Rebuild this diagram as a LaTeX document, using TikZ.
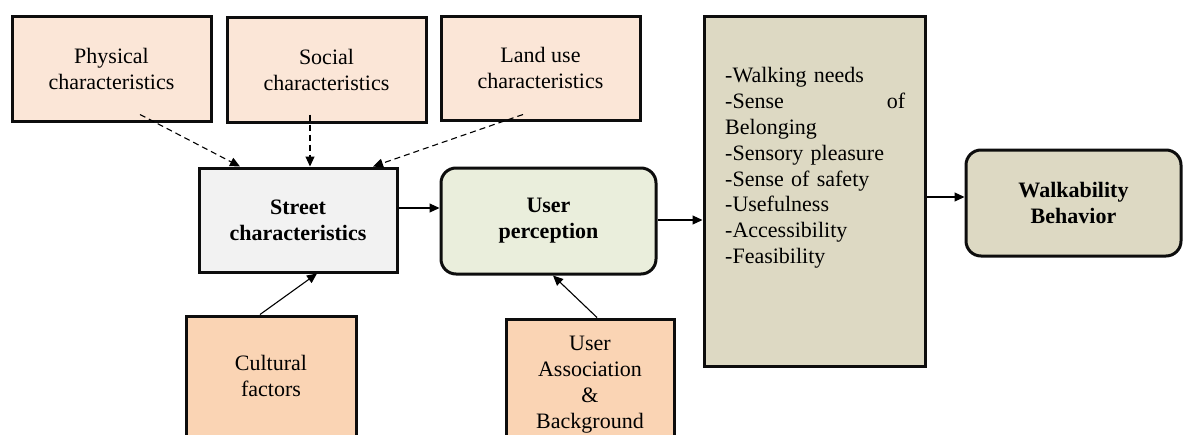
\documentclass[tikz,border=0pt]{standalone}
\usepackage{fontspec}
\IfFontExistsTF{LiberationSerif-Regular.ttf}
  {\setmainfont{LiberationSerif}[Extension=.ttf, UprightFont=*-Regular, BoldFont=*-Bold, ItalicFont=*-Italic, BoldItalicFont=*-BoldItalic]}
  {\setmainfont{Liberation Serif}}
\usetikzlibrary{arrows.meta,calc}
\definecolor{topfill}{HTML}{FBE6D7}
\definecolor{streetfill}{HTML}{F2F2F2}
\definecolor{userfill}{HTML}{EAEEDC}
\definecolor{tanfill}{HTML}{DDD9C3}
\definecolor{orangefill}{HTML}{FAD4B4}
\tikzset{
  box/.style={draw=black!95, line width=3pt, inner sep=0pt, align=center,
    font=\fontsize{22}{26}\selectfont},
  roundbox/.style={box, rounded corners=15pt},
  conn/.style={line width=1.1pt, -{Triangle[length=10pt,width=9pt]}},
  dconn/.style={conn, dash pattern=on 6pt off 4pt},
}
\begin{document}
\begin{tikzpicture}[x=1pt,y=-1pt]
\clip (0,0) rectangle (1183,434);
\fill[white] (0,0) rectangle (1183,434);
% top boxes
\node[box, fill=topfill, minimum width=199pt, minimum height=105pt] (phys) at (111.5,68.5) {Physical\\characteristics};
\node[box, fill=topfill, minimum width=199pt, minimum height=105pt] (soc) at (326.5,69.5) {Social\\characteristics};
\node[box, fill=topfill, minimum width=199pt, minimum height=104pt] (land) at (540.5,68) {Land use\\characteristics};
% middle
\node[box, fill=streetfill, minimum width=198pt, minimum height=104pt, font=\fontsize{22}{26}\selectfont\bfseries] (street) at (298,220) {Street\\characteristics};
\node[roundbox, fill=userfill, minimum width=215pt, minimum height=106pt, font=\fontsize{22}{26}\selectfont\bfseries] (user) at (548.5,221) {User\\perception};
\node[box, fill=tanfill, minimum width=221pt, minimum height=350pt] (big) at (814.5,191) {};
\node[anchor=north west, inner sep=0pt, text width=180pt, align=left, font=\fontsize{22}{25.9}\selectfont] (list) at (725,67)
  {-Walking needs\\-Sense\hfill of\\Belonging\\-Sensory pleasure\\-Sense of safety\\-Usefulness\\-Accessibility\\-Feasibility};
\node[roundbox, fill=tanfill, minimum width=215pt, minimum height=106pt, font=\fontsize{22}{26}\selectfont\bfseries] (walk) at (1073.5,203) {Walkability\\Behavior};
% bottom
\node[box, fill=orangefill, minimum width=170pt, minimum height=120pt] (cult) at (271,376) {Cultural\\factors};
\node[box, fill=orangefill, minimum width=168pt, minimum height=131pt] (assoc) at (590,384.5) {User\\Association\\\&\\Background};
% connectors
\draw[dconn] ($(phys.south)+(28.5,-8)$) -- ($(street.north)+(-58,0)$);
\draw[dconn] ($(soc.south)+(-16.5,-9)$) -- ($(street.north)+(12,0)$);
\draw[dconn] ($(land.south)+(-17.5,-7)$) -- ($(street.north)+(75,0)$);
\draw[conn] ($(cult.north)+(-11,0)$) -- ($(street.south)+(19,0)$);
\draw[conn] ($(assoc.north)+(7,0)$) -- ($(user.south)+(4.5,0)$);
\draw[conn] (street.east |- 0,208) -- (user.west |- 0,208);
\draw[conn] (user.east |- 0,220) -- (big.west |- 0,220);
\draw[conn] (big.east |- 0,197) -- (walk.west |- 0,197);
\end{tikzpicture}
\end{document}
